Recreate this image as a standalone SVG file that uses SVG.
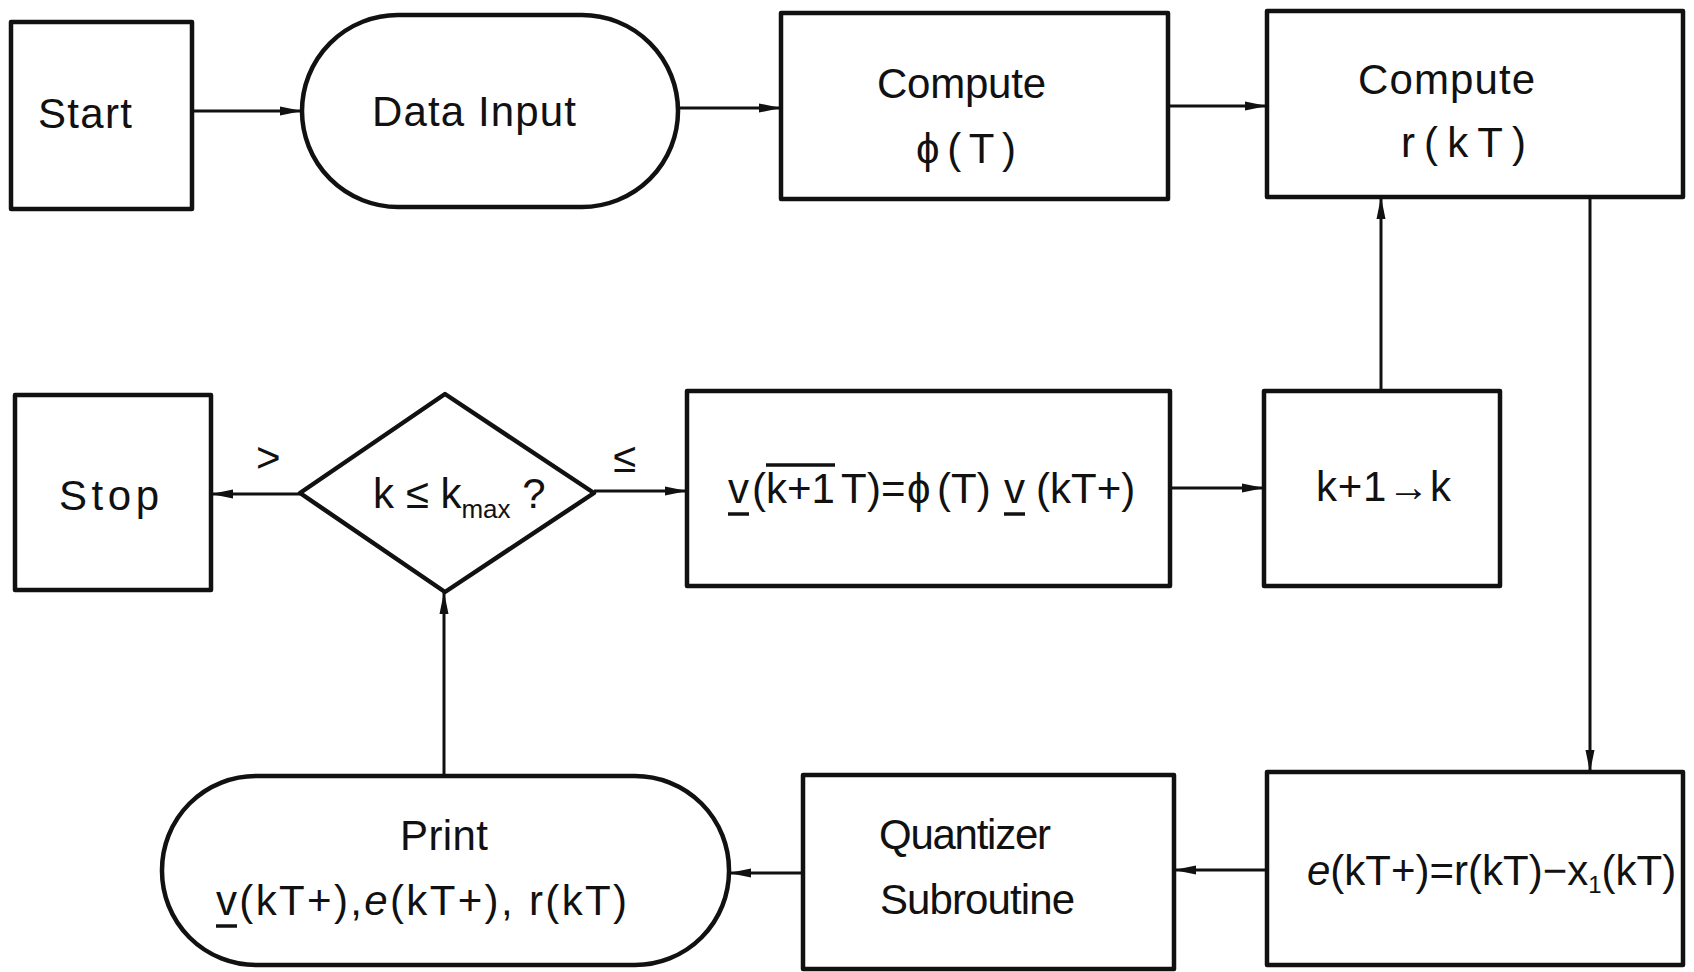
<svg xmlns="http://www.w3.org/2000/svg" width="1694" height="972" viewBox="0 0 1694 972">
<defs>
<style>
.box{fill:none;stroke:#111;stroke-width:4.5;stroke-linejoin:round}
.con{fill:none;stroke:#111;stroke-width:3}
.t{font-family:"Liberation Sans",Arial,sans-serif;font-size:42px;fill:#111}
.dec{stroke:#111;stroke-width:3.5}
</style>
<marker id="ah" markerUnits="userSpaceOnUse" markerWidth="24" markerHeight="12" refX="22" refY="6" orient="auto">
<path d="M0,1.5 L22,6 L0,10.5 Z" fill="#111"/>
</marker>
</defs>
<rect width="1694" height="972" fill="#fff"/>

<g id="start">
<rect class="box" x="11" y="22" width="181" height="187"/>
<text class="t" x="38" y="128" textLength="94" lengthAdjust="spacing">Start</text>
</g>
<g id="data-input">
<rect class="box" x="302" y="15" width="376" height="192" rx="96" ry="96"/>
<text class="t" x="372" y="126" textLength="204" lengthAdjust="spacing">Data Input</text>
</g>
<g id="compute-phi">
<rect class="box" x="781" y="13" width="387" height="186"/>
<text class="t" x="877" y="98" textLength="169" lengthAdjust="spacing">Compute</text>
<text class="t" x="916" y="163" textLength="100" lengthAdjust="spacing">ϕ(T)</text>
</g>
<g id="compute-r">
<rect class="box" x="1267" y="11" width="416" height="186"/>
<text class="t" x="1358" y="94" textLength="177" lengthAdjust="spacing">Compute</text>
<text class="t" x="1401" y="157" textLength="125" lengthAdjust="spacing">r(kT)</text>
</g>
<g id="stop">
<rect class="box" x="15" y="395" width="196" height="195"/>
<text class="t" x="59" y="510" textLength="100" lengthAdjust="spacing">Stop</text>
</g>
<g id="decision">
<polygon class="box" points="300,493 445,394 594,493 445,592"/>
<text class="t" x="373" y="508">k ≤ k<tspan font-size="26" dy="10">max</tspan><tspan dy="-10"> ?</tspan></text>
</g>
<g id="update-v">
<rect class="box" x="687" y="391" width="483" height="195"/>
<text class="t" y="503"><tspan x="728">v</tspan><tspan x="752">(</tspan><tspan x="766">k+1</tspan><tspan x="841">T</tspan><tspan x="867">)=</tspan><tspan x="907">ϕ</tspan><tspan x="937">(T)</tspan><tspan x="1004">v</tspan><tspan x="1036">(kT+)</tspan></text>
<line class="dec" x1="728" y1="514" x2="749" y2="514"/>
<line class="dec" x1="1004" y1="514" x2="1025" y2="514"/>
<line class="dec" x1="766" y1="465" x2="835" y2="465"/>
</g>
<g id="increment-k">
<rect class="box" x="1264" y="391" width="236" height="195"/>
<text class="t" x="1316" y="501" textLength="135" lengthAdjust="spacing">k+1→k</text>
</g>
<g id="error">
<rect class="box" x="1267" y="772" width="416" height="193"/>
<text class="t" x="1307" y="885" font-size="40"><tspan font-style="italic">e</tspan>(kT+)=r(kT)−x<tspan font-size="24" dy="8">1</tspan><tspan dy="-8">(kT)</tspan></text>
</g>
<g id="quantizer">
<rect class="box" x="803" y="775" width="371" height="194"/>
<text class="t" x="879" y="849" textLength="172" lengthAdjust="spacing">Quantizer</text>
<text class="t" x="880" y="914" textLength="195" lengthAdjust="spacing">Subroutine</text>
</g>
<g id="print">
<rect class="box" x="162" y="776" width="567" height="189" rx="94" ry="94"/>
<text class="t" x="400" y="850" textLength="88" lengthAdjust="spacing">Print</text>
<text class="t" x="216" y="915" textLength="411" lengthAdjust="spacing">v(kT+),<tspan font-style="italic">e</tspan>(kT+), r(kT)</text>
<line class="dec" x1="216" y1="926" x2="237" y2="926"/>
</g>

<g id="connectors">
<path class="con" marker-end="url(#ah)" d="M192,111 H302"/>
<path class="con" marker-end="url(#ah)" d="M678,108 H781"/>
<path class="con" marker-end="url(#ah)" d="M1168,106 H1267"/>
<path class="con" marker-end="url(#ah)" d="M300,494 H211"/>
<path class="con" marker-end="url(#ah)" d="M594,491 H687"/>
<path class="con" marker-end="url(#ah)" d="M1170,488 H1264"/>
<path class="con" marker-end="url(#ah)" d="M1381,391 V197"/>
<path class="con" marker-end="url(#ah)" d="M1590,197 V772"/>
<path class="con" marker-end="url(#ah)" d="M1267,870 H1174"/>
<path class="con" marker-end="url(#ah)" d="M803,873 H729"/>
<path class="con" marker-end="url(#ah)" d="M444,776 V592"/>
<text class="t" x="256" y="472" font-size="34">&gt;</text>
<text class="t" x="613" y="472" font-size="34">≤</text>
</g>
</svg>
